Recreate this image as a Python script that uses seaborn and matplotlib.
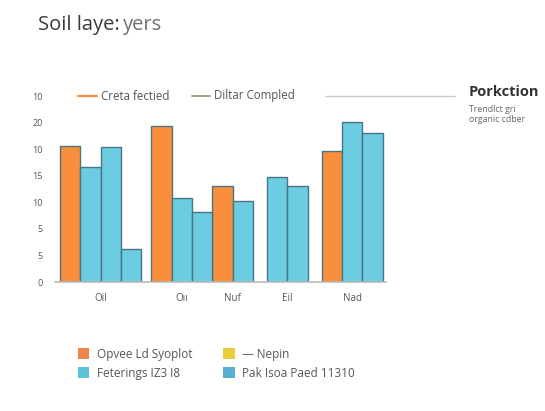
import matplotlib
matplotlib.use("Agg")
import matplotlib.pyplot as plt
from matplotlib.lines import Line2D
from matplotlib.patches import Patch
import seaborn as sns
import pandas as pd

# --- data -------------------------------------------------------------
categories = ["Oil", "Oıı", "Nuf", "Eil", "Nad"]
orange_vals = [25.6, 29.4, 18.0, None, 24.6]
cyan_vals = [[21.6, 25.4, 6.3], [15.9, 13.1], [15.2], [19.7, 18.0], [30.1, 28.0]]
ytick_labels = ["0", "5", "5", "10", "15", "10", "20", "10"]

top_legend = ["Creta fectied", "Diltar Compled"]
bottom_legend = ["Opvee Ld Syoplot", "Feterings IZ3 I8", "— Nepin", "Pak Isoa Paed 11310"]
side_title = "Porkction"
side_lines = ["Trendlct gri", "organic cdber"]

# --- style ------------------------------------------------------------
sns.set_theme(style="white")
plt.rcParams["font.family"] = ["Open Sans", "DejaVu Sans"]

ORANGE = "#F98F3D"
CYAN = "#6BCCE2"
EDGE = "#4a7582"

W, H = 545, 411
fig = plt.figure(figsize=(W / 100, H / 100), dpi=100)


def px(x, y):
    return x / W, 1 - y / H


# bar layout: each bar is one unit wide, groups separated by small gaps
gaps_before = [0.0, 0.5, 0.0, 0.7, 0.7]
rows = []
centers = []
cursor = 0.0
for gi, cat in enumerate(categories):
    cursor += gaps_before[gi]
    start = cursor
    series = []
    if orange_vals[gi] is not None:
        series.append(("orange", orange_vals[gi]))
    series += [("cyan", v) for v in cyan_vals[gi]]
    for kind, v in series:
        rows.append({"pos": cursor + 0.5, "value": v, "kind": kind})
        cursor += 1.0
    centers.append((start + cursor) / 2)
df = pd.DataFrame(rows)

ax = fig.add_axes([55 / W, 1 - 282 / H, 331 / W, 186 / H])
sns.barplot(data=df, x="pos", y="value", hue="kind", native_scale=True,
            palette={"orange": ORANGE, "cyan": CYAN}, width=1.0, dodge=False,
            saturation=1, edgecolor=EDGE, linewidth=1.0, legend=False, ax=ax)

ax.set_xlim(-0.25, 16.06)
ax.set_ylim(0, 35)
ax.set_yticks(range(0, 36, 5))
ax.set_yticklabels(ytick_labels)
ax.set_xticks(centers)
ax.set_xticklabels(categories)
ax.set_xlabel("")
ax.set_ylabel("")
ax.tick_params(axis="y", length=0, pad=9, labelsize=6.5, labelcolor="#555555")
ax.tick_params(axis="x", length=0, pad=8, labelsize=7, labelcolor="#555555")
for s in ["top", "right", "left"]:
    ax.spines[s].set_visible(False)
ax.spines["bottom"].set_color("#bbbbbb")
ax.spines["bottom"].set_linewidth(1.2)

# title: first word block darker, trailing word lighter
t1 = fig.text(*px(38, 25), "Soil laye:", fontsize=14.5, color="#3a3a3a",
              ha="left", va="center", fontweight="medium")
fig.canvas.draw()
bb = t1.get_window_extent()
fig.text(bb.x1 / W + 3 / W, 1 - 25 / H, "yers", fontsize=14.5, color="#6f6f6f",
         ha="left", va="center")

# top legend row
def fig_line(x0, x1, y, color, lw=1.3):
    a, b = px(x0, y)
    c, _ = px(x1, y)
    fig.add_artist(Line2D([a, c], [b, b], color=color, lw=lw,
                          transform=fig.transFigure))

fig_line(78, 97, 96, ORANGE, 1.6)
fig.text(*px(101, 96), top_legend[0], fontsize=8.3, color="#555555", va="center",
         stretch="expanded")
fig_line(192, 210, 96, "#8f9f84", 1.3)
fig.text(*px(214, 96), top_legend[1], fontsize=8.3, color="#555555", va="center")
fig_line(325, 455, 96, "#cccccc", 1.0)

fig.text(*px(469, 92), side_title, fontsize=10.5, fontweight="bold",
         color="#333333", va="center")
fig.text(*px(469, 109), side_lines[0], fontsize=6.3, color="#666666", va="center")
fig.text(*px(469, 120), side_lines[1], fontsize=6.3, color="#666666", va="center")

# bottom legend
handles = [Patch(facecolor="#EE8549", edgecolor="none"),
           Patch(facecolor="#5BC3D8", edgecolor="none"),
           Patch(facecolor="#E8CC3C", edgecolor="none"),
           Patch(facecolor="#5AAED0", edgecolor="none")]
fig.legend(handles, bottom_legend, ncol=2, loc="upper left",
           bbox_to_anchor=px(67, 337), frameon=False, fontsize=8.5,
           handlelength=1.0, handleheight=1.0, handletextpad=0.6,
           columnspacing=2.6, labelspacing=0.5, labelcolor="#555555")

fig.savefig("out.png", dpi=100)
